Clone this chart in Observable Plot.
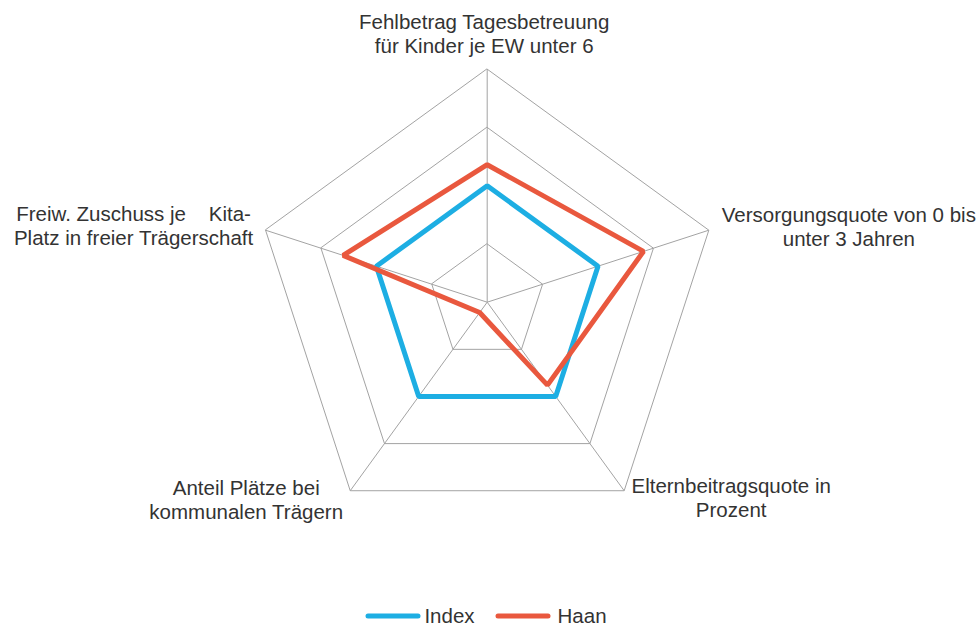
<!DOCTYPE html>
<html>
<head>
<meta charset="utf-8">
<script src="https://cdn.jsdelivr.net/npm/d3@7"></script>
<script src="https://cdn.jsdelivr.net/npm/@observablehq/plot@0.6"></script>
<style>
  html, body { margin: 0; padding: 0; background: #fff; }
  body { width: 980px; height: 631px; overflow: hidden; font-family: "Liberation Sans", Arial, sans-serif; }
  #chart svg text { white-space: pre; }
  #legend { height: 31px; display: flex; justify-content: center; align-items: center; padding-right: 8px; font-size: 20.5px; color: #333; }
  .item { display: flex; align-items: center; }
  .item svg { display: block; }
</style>
</head>
<body>
<div id="chart"></div>
<div id="legend"></div>
<script>
// ---- data ----
const categories = [
  "Fehlbetrag Tagesbetreuung\nfür Kinder je EW unter 6",
  "Versorgungsquote von 0 bis\nunter 3 Jahren",
  "Elternbeitragsquote in\nProzent",
  "Anteil Plätze bei\nkommunalen Trägern",
  "Freiw. Zuschuss je    Kita-\nPlatz in freier Trägerschaft"
];
const seriesNames = ["Index", "Haan"];
const indexValues = [100, 100, 100, 100, 100];
const haanValues = [118, 141, 88, 11, 130];
const gridLevels = [50, 100, 150, 200];

// ---- styles / layout ----
const seriesColors = ["#1daee3", "#e9583e"];
const gridColor = "#a3a3a3";
const labelOffsets = [[-3, -36], [140, -4], [107, 7], [-104, 9], [-132, -5]];

// angle helpers: with rotate [180, -90], longitude 0 is at the top and
// longitude -θ lies θ degrees clockwise from the top
const maxValue = d3.max(gridLevels);
const lon = (i) => -(360 / categories.length) * i;
const lat = (v) => 90 - v / maxValue; // outer ring at 1 degree from pole

const rows = [];
[indexValues, haanValues].forEach((vals, s) => {
  vals.forEach((v, i) => rows.push({series: seriesNames[s], axis: i, value: v}));
});
const ringRows = gridLevels.flatMap((l) => categories.map((c, i) => ({level: l, axis: i})));
const axisRows = categories.map((c, i) => ({axis: i, label: c}));

const labelMarks = axisRows.map((d, k) =>
  Plot.text([d], {
    x: (d) => lon(d.axis),
    y: () => lat(maxValue),
    text: "label",
    dx: labelOffsets[k][0],
    dy: labelOffsets[k][1],
    textAnchor: "middle",
    lineAnchor: "middle",
    lineHeight: 1.17,
    fontSize: 20.5,
    fill: "#333"
  })
);

const chart = Plot.plot({
  width: 980,
  height: 600,
  margin: 0,
  style: {fontFamily: "Liberation Sans, Arial, sans-serif", background: "white", overflow: "visible"},
  projection: {
    type: "azimuthal-equidistant",
    rotate: [180, -90],
    domain: d3.geoCircle().center([0, 90]).radius(1)(),
    insetTop: 68.7,
    insetBottom: 65.3,
    insetLeft: 0,
    insetRight: 6.6
  },
  color: {domain: seriesNames, range: seriesColors},
  marks: [
    Plot.line(ringRows, {
      x: (d) => lon(d.axis),
      y: (d) => lat(d.level),
      z: "level",
      curve: "linear-closed",
      stroke: gridColor,
      strokeWidth: 1
    }),
    Plot.link(axisRows, {
      x1: (d) => lon(d.axis),
      y1: () => 90,
      x2: (d) => lon(d.axis),
      y2: () => lat(maxValue),
      stroke: gridColor,
      strokeWidth: 1
    }),
    Plot.line(rows, {
      x: (d) => lon(d.axis),
      y: (d) => lat(d.value),
      z: "series",
      stroke: "series",
      curve: "linear-closed",
      strokeWidth: 5,
      strokeLinejoin: "miter"
    }),
    ...labelMarks
  ]
});
document.getElementById("chart").appendChild(chart);

// ---- legend ----
const legend = document.getElementById("legend");
seriesNames.forEach((name, i) => {
  const item = document.createElement("div");
  item.className = "item";
  item.style.marginRight = i === 0 ? "20px" : "0";
  item.innerHTML =
    `<svg width="56" height="10"><line x1="3" y1="5" x2="53" y2="5" stroke="${seriesColors[i]}" stroke-width="5" stroke-linecap="round"/></svg>` +
    `<span style="margin-left:${i === 0 ? 3 : 7}px">${name}</span>`;
  legend.appendChild(item);
});
</script>
</body>
</html>
